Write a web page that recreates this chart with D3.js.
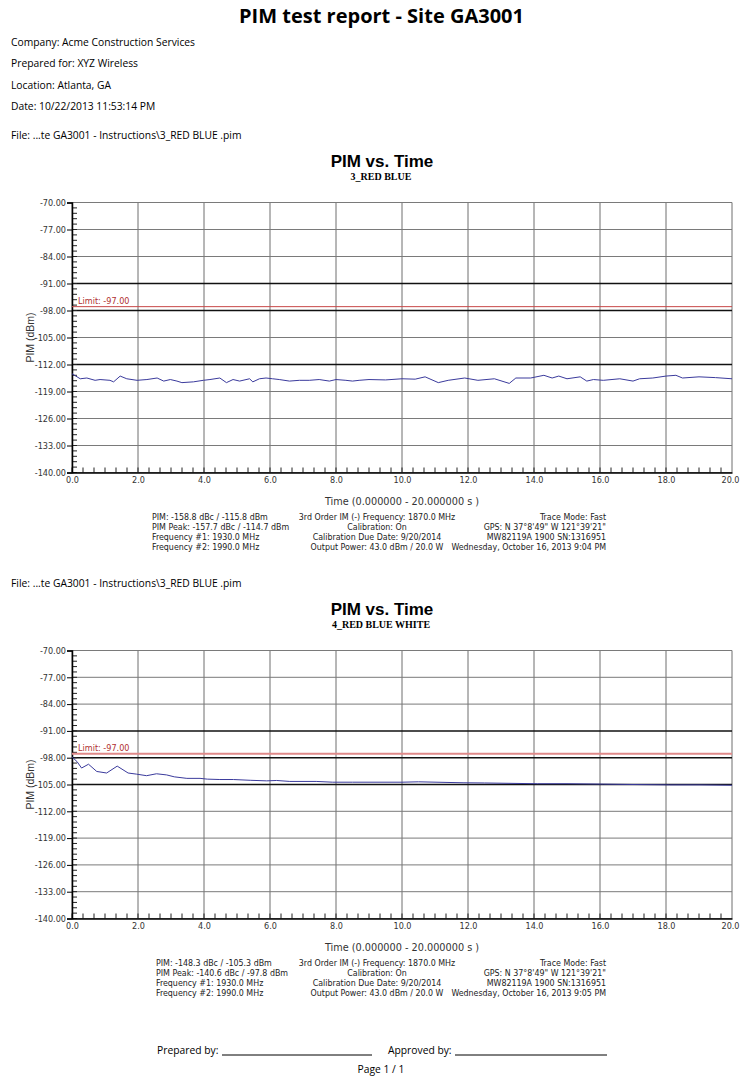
<!DOCTYPE html>
<html>
<head>
<meta charset="utf-8">
<script src="https://cdn.jsdelivr.net/npm/d3@7"></script>
<style>
  body { margin: 0; background: #fff; }
  svg { display: block; }
  .ui { font-family: "Open Sans", "Noto Sans", sans-serif; }
  .narrow { font-family: "Liberation Sans Narrow", "DejaVu Sans Condensed", "Liberation Sans", sans-serif; }
  .arial { font-family: "Liberation Sans", Arial, sans-serif; }
  .serif { font-family: "Liberation Serif", "Times New Roman", serif; }
</style>
</head>
<body>
<div id="page"></div>
<script>
// report header
const reportTitle = 'PIM test report - Site GA3001'
const headerLines = [
  'Company: Acme Construction Services',
  'Prepared for: XYZ Wireless',
  'Location: Atlanta, GA',
  'Date: 10/22/2013 11:53:14 PM'
]
const fileLine = 'File: ...te GA3001 - Instructions\\3_RED BLUE .pim'

// axes
const yTicks = [-70, -77, -84, -91, -98, -105, -112, -119, -126, -133, -140]
const xTicks = [0, 2, 4, 6, 8, 10, 12, 14, 16, 18, 20]
const limitValue = -97

// trace 1: 3_RED BLUE
const chart1Times = [0, 0.25, 0.45, 0.7, 0.85, 1.15, 1.26, 1.46, 1.66, 1.97, 2.27, 2.58, 2.78, 2.98, 3.18, 3.33,
  3.68, 3.98, 4.18, 4.48, 4.68, 4.88, 5.08, 5.38, 5.48, 5.68, 5.88, 6.08, 6.28, 6.59, 6.89, 7.19, 7.49, 7.8,
  8.0, 8.3, 8.5, 8.7, 9.0, 9.5, 10.0, 10.4, 10.7, 11.1, 11.4, 11.9, 12.3, 12.8, 13.25, 13.45, 13.9, 14.3,
  14.55, 14.75, 15.0, 15.4, 15.6, 15.8, 16.1, 16.6, 17.0, 17.2, 17.6, 18.0, 18.3, 18.5, 19.0, 19.5, 20.0]
const chart1Values = [-114.4, -115.7, -115.5, -116.1, -115.9, -116.1, -116.5, -115.0, -115.7, -116.1, -115.9, -115.5,
  -116.3, -115.9, -116.3, -116.7, -116.5, -116.1, -115.9, -115.5, -116.7, -115.9, -116.3, -115.7, -116.5, -115.7,
  -115.5, -115.7, -115.9, -116.3, -116.1, -116.1, -115.9, -116.3, -115.9, -116.1, -116.3, -116.1, -115.9, -116.0,
  -115.7, -115.8, -115.2, -116.7, -116.1, -115.5, -116.1, -115.7, -116.9, -115.5, -115.5, -114.8, -115.5, -115.0,
  -115.7, -115.2, -116.3, -115.9, -116.1, -115.7, -116.3, -115.7, -115.5, -115.0, -114.8, -115.5, -115.2, -115.4, -115.7]

// trace 2: 4_RED BLUE WHITE
const chart2Times = [0, 0.15, 0.29, 0.5, 0.75, 1.05, 1.37, 1.7, 1.96, 2.26, 2.56, 2.87, 3.1, 3.48, 3.88, 4.1,
  4.48, 4.89, 5.4, 5.9, 6.2, 6.6, 7.4, 7.9, 8.5, 9.0, 10.0, 10.5, 11.85, 12.5, 14.1, 15.0, 16.1, 17.0, 18.1, 19.0, 20.0]
const chart2Values = [-97.8, -99.0, -100.7, -99.7, -101.6, -102.0, -100.2, -102.0, -102.3, -102.7, -102.2, -102.5,
  -103.0, -103.4, -103.4, -103.6, -103.7, -103.7, -103.9, -104.05, -103.95, -104.2, -104.2, -104.4, -104.4, -104.4,
  -104.4, -104.3, -104.55, -104.6, -104.8, -104.8, -104.9, -105.0, -105.1, -105.1, -105.2]

// measurement info under each chart
const infoMid = ['3rd Order IM (-) Frequency: 1870.0 MHz', 'Calibration: On', 'Calibration Due Date: 9/20/2014', 'Output Power: 43.0 dBm / 20.0 W']
const chart1InfoLeft = ['PIM: -158.8 dBc / -115.8 dBm', 'PIM Peak: -157.7 dBc / -114.7 dBm', 'Frequency #1: 1930.0 MHz', 'Frequency #2: 1990.0 MHz']
const chart1InfoRight = ['Trace Mode: Fast', 'GPS: N 37°8\'49"  W 121°39\'21"', 'MW82119A 1900 SN:1316951', 'Wednesday, October 16, 2013 9:04 PM']
const chart2InfoLeft = ['PIM: -148.3 dBc / -105.3 dBm', 'PIM Peak: -140.6 dBc / -97.8 dBm', 'Frequency #1: 1930.0 MHz', 'Frequency #2: 1990.0 MHz']
const chart2InfoRight = ['Trace Mode: Fast', 'GPS: N 37°8\'49"  W 121°39\'21"', 'MW82119A 1900 SN:1316951', 'Wednesday, October 16, 2013 9:05 PM']


const svg = d3.select('#page')
  .append('svg')
    .attr('width', 740)
    .attr('height', 1079)

drawHeader()

drawChart({
  top: 202.5, height: 270,
  subtitle: '3_RED BLUE',
  times: chart1Times, values: chart1Values,
  infoLeft: chart1InfoLeft, infoRight: chart1InfoRight, leftX: 152,
  darkLines: [-91, -98, -112],
  limitColor: '#c84848', limitWidth: 1
})

drawChart({
  top: 650.5, height: 268,
  subtitle: '4_RED BLUE WHITE',
  times: chart2Times, values: chart2Values,
  infoLeft: chart2InfoLeft, infoRight: chart2InfoRight, leftX: 156,
  darkLines: [-91, -98, -105],
  limitColor: '#e08a8a', limitWidth: 2
})

drawFooter()


function drawHeader() {
  svg.append('text')
    .attr('class', 'ui')
    .attr('x', 381.5)
    .attr('y', 23)
    .attr('text-anchor', 'middle')
    .style('font-size', '20px')
    .style('font-weight', 'bold')
    .text(reportTitle)

  svg.selectAll('.header-line')
    .data(headerLines)
    .enter()
    .append('text')
      .attr('class', 'header-line ui')
      .attr('x', 11)
      .attr('y', (d, i) => 45.8 + i * 21.5)
      .style('font-size', '10.3px')
      .text(d => d)
}


function drawChart(cfg) {
  const left = 72, right = 732
  const top = cfg.top, bottom = cfg.top + cfg.height

  const x = d3.scaleLinear().domain([0, 20]).range([left, right])
  const y = d3.scaleLinear().domain([-140, -70]).range([bottom, top])

  const g = svg.append('g')

  // file name, title, subtitle
  g.append('text')
    .attr('class', 'ui')
    .attr('x', 11)
    .attr('y', top - 64)
    .style('font-size', '10.3px')
    .text(fileLine)

  g.append('text')
    .attr('class', 'arial')
    .attr('x', 382)
    .attr('y', top - 36)
    .attr('text-anchor', 'middle')
    .style('font-size', '17px')
    .style('font-weight', 'bold')
    .text('PIM vs. Time')

  g.append('text')
    .attr('class', 'serif')
    .attr('x', 381)
    .attr('y', top - 22.5)
    .attr('text-anchor', 'middle')
    .style('font-size', '10px')
    .style('font-weight', 'bold')
    .text(cfg.subtitle)

  // grid
  g.append('g')
    .selectAll('line')
    .data(xTicks)
    .enter()
    .append('line')
      .attr('x1', d => x(d))
      .attr('x2', d => x(d))
      .attr('y1', top)
      .attr('y2', bottom)
      .style('stroke', '#6e6e6e')
      .style('stroke-width', 1)

  g.append('g')
    .selectAll('line')
    .data(yTicks)
    .enter()
    .append('line')
      .attr('x1', left)
      .attr('x2', right)
      .attr('y1', d => y(d))
      .attr('y2', d => y(d))
      .style('stroke', d => cfg.darkLines.includes(d) ? '#111' : '#7a7a7a')
      .style('stroke-width', d => cfg.darkLines.includes(d) ? 1.5 : 1)

  // minor ticks
  g.append('g')
    .selectAll('line')
    .data(d3.range(0, 20, 1 / 3))
    .enter()
    .append('line')
      .attr('x1', d => x(d))
      .attr('x2', d => x(d))
      .attr('y1', bottom)
      .attr('y2', bottom - 5)
      .style('stroke', '#222')

  g.append('g')
    .selectAll('line')
    .data(d3.range(-140, -70, 1.4))
    .enter()
    .append('line')
      .attr('x1', left)
      .attr('x2', left + 5)
      .attr('y1', d => y(d))
      .attr('y2', d => y(d))
      .style('stroke', '#222')

  // Y axis
  const yAxis = g.append('g')
    .attr('transform', 'translate(' + left + ',0)')
    .call(d3.axisLeft(y).tickValues(yTicks).tickSize(5).tickPadding(1).tickFormat(d => d.toFixed(2)))
  yAxis.select('.domain').style('stroke', '#000').style('stroke-width', 1.5)
  yAxis.selectAll('text')
    .attr('class', 'narrow')
    .style('font-size', '9px')
    .style('fill', '#333')

  // X axis
  const xAxis = g.append('g')
    .attr('transform', 'translate(0,' + bottom + ')')
    .call(d3.axisBottom(x).tickValues(xTicks).tickSize(0).tickPadding(4).tickFormat(d => d.toFixed(1)))
  xAxis.select('.domain').style('stroke', '#000').style('stroke-width', 1.5)
  xAxis.selectAll('text')
    .attr('class', 'narrow')
    .style('font-size', '9px')
    .style('fill', '#333')
  // keep the last label inside the page
  xAxis.selectAll('.tick').filter(d => d === 20).select('text').attr('x', -2)

  // limit line
  g.append('line')
    .attr('x1', left)
    .attr('x2', right)
    .attr('y1', y(limitValue))
    .attr('y2', y(limitValue))
    .style('stroke', cfg.limitColor)
    .style('stroke-width', cfg.limitWidth)

  g.append('text')
    .attr('class', 'narrow')
    .attr('x', left + 6)
    .attr('y', y(limitValue) - 3)
    .style('font-size', '9px')
    .style('fill', '#b03030')
    .text('Limit: ' + limitValue.toFixed(2))

  // trace
  const points = cfg.times.map((t, i) => [t, cfg.values[i]])
  g.append('path')
    .datum(points)
    .attr('d', d3.line().x(d => x(d[0])).y(d => y(d[1])))
    .style('fill', 'none')
    .style('stroke', '#3a3a9c')
    .style('stroke-width', 1)

  // axis titles
  g.append('text')
    .attr('class', 'narrow')
    .attr('x', (left + right) / 2)
    .attr('y', bottom + 32)
    .attr('text-anchor', 'middle')
    .style('font-size', '10.8px')
    .style('fill', '#333')
    .text('Time (0.000000 - 20.000000 s )')

  g.append('text')
    .attr('class', 'arial')
    .attr('transform', 'rotate(-90)')
    .attr('x', -(top + bottom) / 2)
    .attr('y', 34)
    .attr('text-anchor', 'middle')
    .style('font-size', '10.5px')
    .style('fill', '#333')
    .text('PIM (dBm)')

  // info block
  const cols = [
    { lines: cfg.infoLeft, x: cfg.leftX, anchor: 'start' },
    { lines: infoMid, x: 377, anchor: 'middle' },
    { lines: cfg.infoRight, x: 606, anchor: 'end' }
  ]
  cols.forEach(col => {
    g.append('g')
      .selectAll('text')
      .data(col.lines)
      .enter()
      .append('text')
        .attr('class', 'narrow')
        .attr('x', col.x)
        .attr('y', (d, i) => bottom + 47 + i * 10)
        .attr('text-anchor', col.anchor)
        .style('font-size', '8.8px')
        .style('fill', '#222')
        .text(d => d)
  })
}


function drawFooter() {
  const f = svg.append('g').attr('class', 'ui').style('font-size', '10.3px')

  f.append('text').attr('x', 157).attr('y', 1054).text('Prepared by:')
  f.append('line').attr('x1', 222).attr('x2', 372).attr('y1', 1055).attr('y2', 1055).style('stroke', '#000')

  f.append('text').attr('x', 388).attr('y', 1054).text('Approved by:')
  f.append('line').attr('x1', 455).attr('x2', 607).attr('y1', 1055).attr('y2', 1055).style('stroke', '#000')

  f.append('text').attr('x', 381).attr('y', 1073).attr('text-anchor', 'middle').text('Page 1 / 1')
}
</script>
</body>
</html>
